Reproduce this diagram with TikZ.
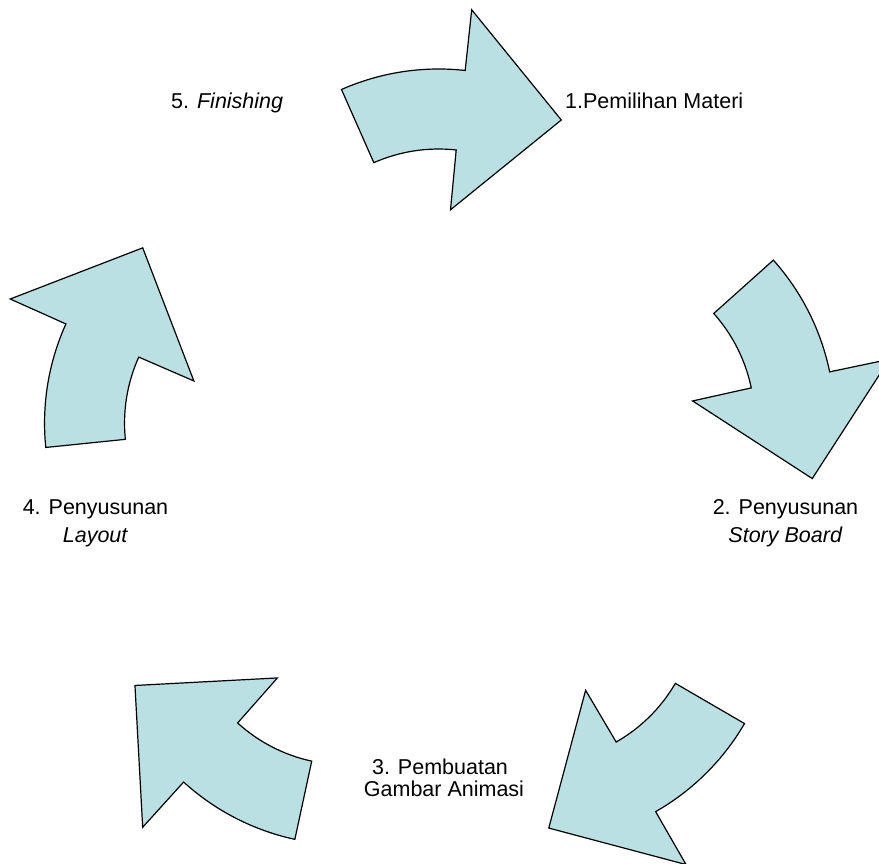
\documentclass[tikz,border=0pt]{standalone}
\usepackage{fontspec}
\setmainfont{Liberation Sans}
\definecolor{arrowblue}{RGB}{186,224,227}
\tikzset{
  cyclefill/.style={fill=arrowblue, draw=black, line width=1.2pt, line join=miter},
  lbl/.style={inner sep=0pt, font=\fontsize{21.5}{26}\selectfont},
}
\begin{document}
\begin{tikzpicture}[x=1pt,y=1pt]
\useasboundingbox (0,0) rectangle (879,864);
\clip (0,0) rectangle (879,864);
\coordinate (ctr) at (440,392);
\foreach \k in {0,1,2,3,4}{
  \begin{scope}[shift={(ctr)}, rotate=-72*\k]
    \draw[cyclefill] (-98.5,382.5) arc[start angle=113.8, end angle=83.7, radius=241pt]
      -- (31.7,462.2) -- (121.3,352) -- (10.5,262.2) -- (16.2,322)
      arc[start angle=83.7, end angle=113.8, radius=160.5pt] -- cycle;
  \end{scope}
}
\node[lbl, anchor=base west] (lab1) at (565,755) {1.Pemilihan Materi};
\node[lbl, anchor=base west] (lab5) at (171,755.5) {5. \textit{Finishing}};
\node[lbl, anchor=base] (lab2a) at (785.5,349) {2. Penyusunan};
\node[lbl, anchor=base] (lab2b) at (785.5,321) {\textit{Story Board}};
\node[lbl, anchor=base] (lab4a) at (95.5,349) {4. Penyusunan};
\node[lbl, anchor=base] (lab4b) at (95.5,321) {\textit{Layout}};
\node[lbl, anchor=base] (lab3a) at (440,89) {3. Pembuatan};
\node[lbl, anchor=base] (lab3b) at (444,67.3) {Gambar Animasi};
\end{tikzpicture}
\end{document}
